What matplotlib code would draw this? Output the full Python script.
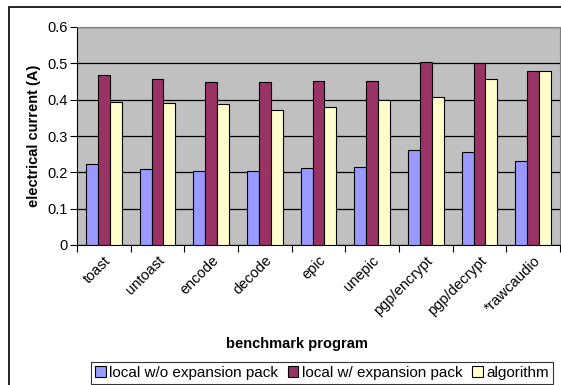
import numpy as np
import matplotlib.pyplot as plt
from matplotlib.patches import Rectangle

plt.rcParams['font.family'] = ['Liberation Sans', 'DejaVu Sans']

programs = ['toast', 'untoast', 'encode', 'decode', 'epic', 'unepic',
            'pgp/encrypt', 'pgp/decrypt', '*rawcaudio']
local_wo = [0.222, 0.208, 0.205, 0.205, 0.213, 0.214, 0.262, 0.257, 0.232]
local_w = [0.469, 0.456, 0.449, 0.449, 0.451, 0.451, 0.504, 0.500, 0.480]
algorithm = [0.394, 0.391, 0.387, 0.372, 0.380, 0.399, 0.408, 0.458, 0.480]

W, H = 561, 385
fs = 10.5
fig = plt.figure(figsize=(W / 100, H / 100), dpi=100)
ax = fig.add_axes([77 / W, (H - 245) / H, 483 / W, 218 / H])

# chart border
fig.patches.append(Rectangle((9 / W, -0.1), 1.2, 1 - 7 / H + 0.1,
                             transform=fig.transFigure, fill=False,
                             edgecolor='black', linewidth=1.2))

x = np.arange(len(programs))
w = 1 / 4.5
ax.set_facecolor('#c0c0c0')
ax.bar(x - w, local_wo, w, color='#9999ff', edgecolor='black', linewidth=0.8,
       label='local w/o expansion pack', zorder=3)
ax.bar(x, local_w, w, color='#993366', edgecolor='black', linewidth=0.8,
       label='local w/ expansion pack', zorder=3)
ax.bar(x + w, algorithm, w, color='#ffffcc', edgecolor='black', linewidth=0.8,
       label='algorithm', zorder=3)

ax.set_xlim(-0.5, len(programs) - 0.5)
ax.set_ylim(0, 0.6)
ax.set_yticks(np.arange(0, 0.61, 0.1))
ax.set_yticklabels(['0', '0.1', '0.2', '0.3', '0.4', '0.5', '0.6'], fontsize=fs)
ax.yaxis.grid(True, color='black', linewidth=0.9, zorder=1)
ax.set_axisbelow(True)

ax.set_xticks(x)
ax.set_xticklabels(programs, rotation=45, ha='right', rotation_mode='anchor',
                   fontsize=fs)
ax.tick_params(axis='x', which='major', length=0, pad=6)
ax.set_xticks(np.arange(-0.5, len(programs)), minor=True)
ax.tick_params(axis='x', which='minor', length=5, width=0.8, direction='out')
ax.tick_params(axis='y', length=5, width=0.8, direction='out', pad=2)

for side in ['top', 'right']:
    ax.spines[side].set_color('#808080')
for side in ['left', 'bottom']:
    ax.spines[side].set_color('black')

ax.set_ylabel('electrical current (A)', fontsize=fs, fontweight='bold', labelpad=4)
fig.text(297 / W, 1 - 344 / H, 'benchmark program', fontsize=fs,
         fontweight='bold', ha='center', va='center')

leg = fig.legend(loc='center', bbox_to_anchor=(322 / W, 1 - 373 / H), ncol=3,
                 fontsize=11, frameon=True, fancybox=False, shadow=False,
                 handlelength=0.7, handleheight=0.7, handletextpad=0.25,
                 columnspacing=0.6, borderpad=0.25, borderaxespad=0)
leg.get_frame().set_edgecolor('black')
leg.get_frame().set_linewidth(0.8)

fig.savefig('out.png', dpi=100)
